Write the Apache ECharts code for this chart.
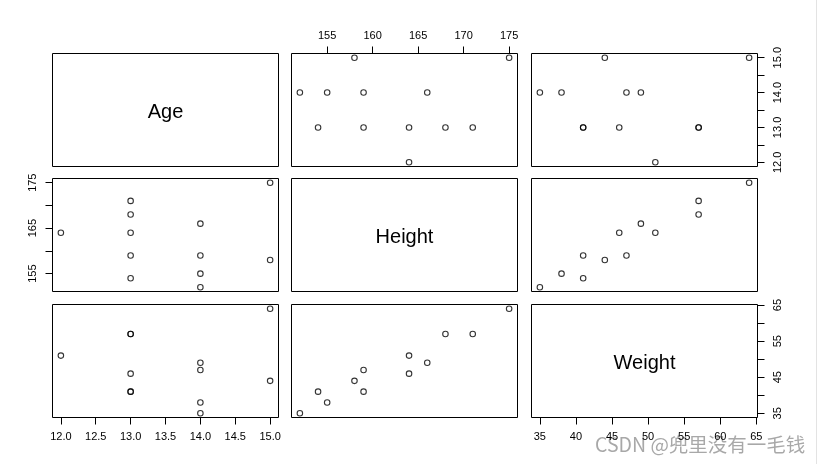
<!DOCTYPE html>
<html>
<head>
<meta charset="utf-8">
<script src="https://cdn.jsdelivr.net/npm/echarts@6/dist/echarts.min.js"></script>
<style>
html, body { margin: 0; padding: 0; background: #fff; }
#chart { width: 822px; height: 464px; }
</style>
</head>
<body>
<div id="chart"></div>
<script>
// pairs() data
var varNames = ['Age', 'Height', 'Weight'];
var age    = [15, 15, 14, 14, 14, 14, 13, 13, 13, 13, 13, 12];
var height = [158, 175, 152, 155, 159, 166, 154, 159, 164, 168, 171, 164];
var weight = [44, 64, 35, 38, 47, 49, 41, 41, 46, 57, 57, 51];

// tick positions and the labels R kept on each side
var ageTicks = [12, 12.5, 13, 13.5, 14, 14.5, 15];
var heightTicks = [155, 160, 165, 170, 175];
var weightTicks = [35, 40, 45, 50, 55, 60, 65];
var ageSideLabels = [12, 13, 14, 15];
var heightSideLabels = [155, 165, 175];
var weightSideLabels = [35, 45, 55, 65];

var vars = [age, height, weight];
var ticks = [ageTicks, heightTicks, weightTicks];
var sideLabels = [ageSideLabels, heightSideLabels, weightSideLabels];
var decimals = [1, 0, 0];

// R extends axis ranges by 4% on each side
function padRange(arr) {
  var lo = Math.min.apply(null, arr), hi = Math.max.apply(null, arr);
  var d = (hi - lo) * 0.04;
  return [lo - d, hi + d];
}
var ranges = vars.map(padRange);

// half-pixel offsets keep the 1px panel boxes crisp
var colX = [52.5, 291.5, 531.5];
var rowY = [53.5, 178.5, 304.5];
var panelW = 226, panelH = 113;
var labelFont = { color: '#000', fontSize: 11, fontFamily: 'Liberation Sans, Arial, sans-serif' };

var grids = [], xAxes = [], yAxes = [], series = [], graphics = [];

for (var i = 0; i < 3; i++) {
  for (var j = 0; j < 3; j++) {
    var idx = grids.length;
    grids.push({
      left: colX[j], top: rowY[i], width: panelW, height: panelH,
      show: true, borderColor: '#000', borderWidth: 1, backgroundColor: 'transparent'
    });

    // x axis: Height on top of column 2, Age/Weight at bottom of columns 1 and 3
    var xShow = (i === 0 && j === 1) || (i === 2 && j !== 1);
    xAxes.push({
      gridIndex: idx, type: 'value',
      min: ranges[j][0], max: ranges[j][1],
      position: i === 0 ? 'top' : 'bottom',
      axisLine: { show: false, onZero: false },
      splitLine: { show: false },
      axisTick: { show: xShow, length: 7, lineStyle: { color: '#000' }, customValues: ticks[j] },
      axisLabel: Object.assign({
        show: xShow, margin: i === 0 ? 12 : 14, customValues: ticks[j],
        formatter: (function (d) { return function (v) { return v.toFixed(d); }; })(decimals[j])
      }, labelFont)
    });

    // y axis: Height on the left of row 2, Age/Weight on the right of rows 1 and 3
    var yShow = (j === 0 && i === 1) || (j === 2 && i !== 1);
    yAxes.push({
      gridIndex: idx, type: 'value',
      min: ranges[i][0], max: ranges[i][1],
      position: j === 0 ? 'left' : 'right',
      axisLine: { show: false, onZero: false },
      splitLine: { show: false },
      axisTick: { show: yShow, length: 7, lineStyle: { color: '#000' }, customValues: ticks[i] },
      axisLabel: Object.assign({
        show: yShow, rotate: 90, margin: j === 0 ? 14 : 15, customValues: sideLabels[i],
        formatter: (function (d) { return function (v) { return v.toFixed(d); }; })(decimals[i])
      }, labelFont)
    });

    if (i === j) {
      graphics.push({
        type: 'text', x: colX[j] + panelW / 2, y: rowY[i] + panelH / 2 + 2,
        style: {
          text: varNames[i], fill: '#000', fontSize: 20,
          fontFamily: 'Liberation Sans, Arial, sans-serif',
          align: 'center', verticalAlign: 'middle'
        }
      });
    } else {
      var pts = [];
      for (var k = 0; k < age.length; k++) pts.push([vars[j][k], vars[i][k]]);
      series.push({
        type: 'scatter', xAxisIndex: idx, yAxisIndex: idx, data: pts,
        symbol: 'circle', symbolSize: 5.5,
        itemStyle: { color: 'rgba(0,0,0,0)', borderColor: '#000', borderWidth: 1.1 },
        emphasis: { disabled: true }, silent: true
      });
    }
  }
}

// screenshot edge and watermark
graphics.push({
  type: 'line', shape: { x1: 816.5, y1: 0, x2: 816.5, y2: 464 },
  style: { stroke: '#e3e3e3', lineWidth: 1 }
});
graphics.push({
  type: 'text', x: 595, y: 445,
  style: {
    text: 'CSDN @兜里没有一毛钱', fill: 'rgba(110,110,110,0.6)', fontSize: 19.5,
    fontFamily: 'Noto Sans CJK SC, sans-serif', verticalAlign: 'middle'
  }
});

var chart = echarts.init(document.getElementById('chart'));
chart.setOption({
  animation: false,
  grid: grids,
  xAxis: xAxes,
  yAxis: yAxes,
  series: series,
  graphic: graphics
});
</script>
</body>
</html>
